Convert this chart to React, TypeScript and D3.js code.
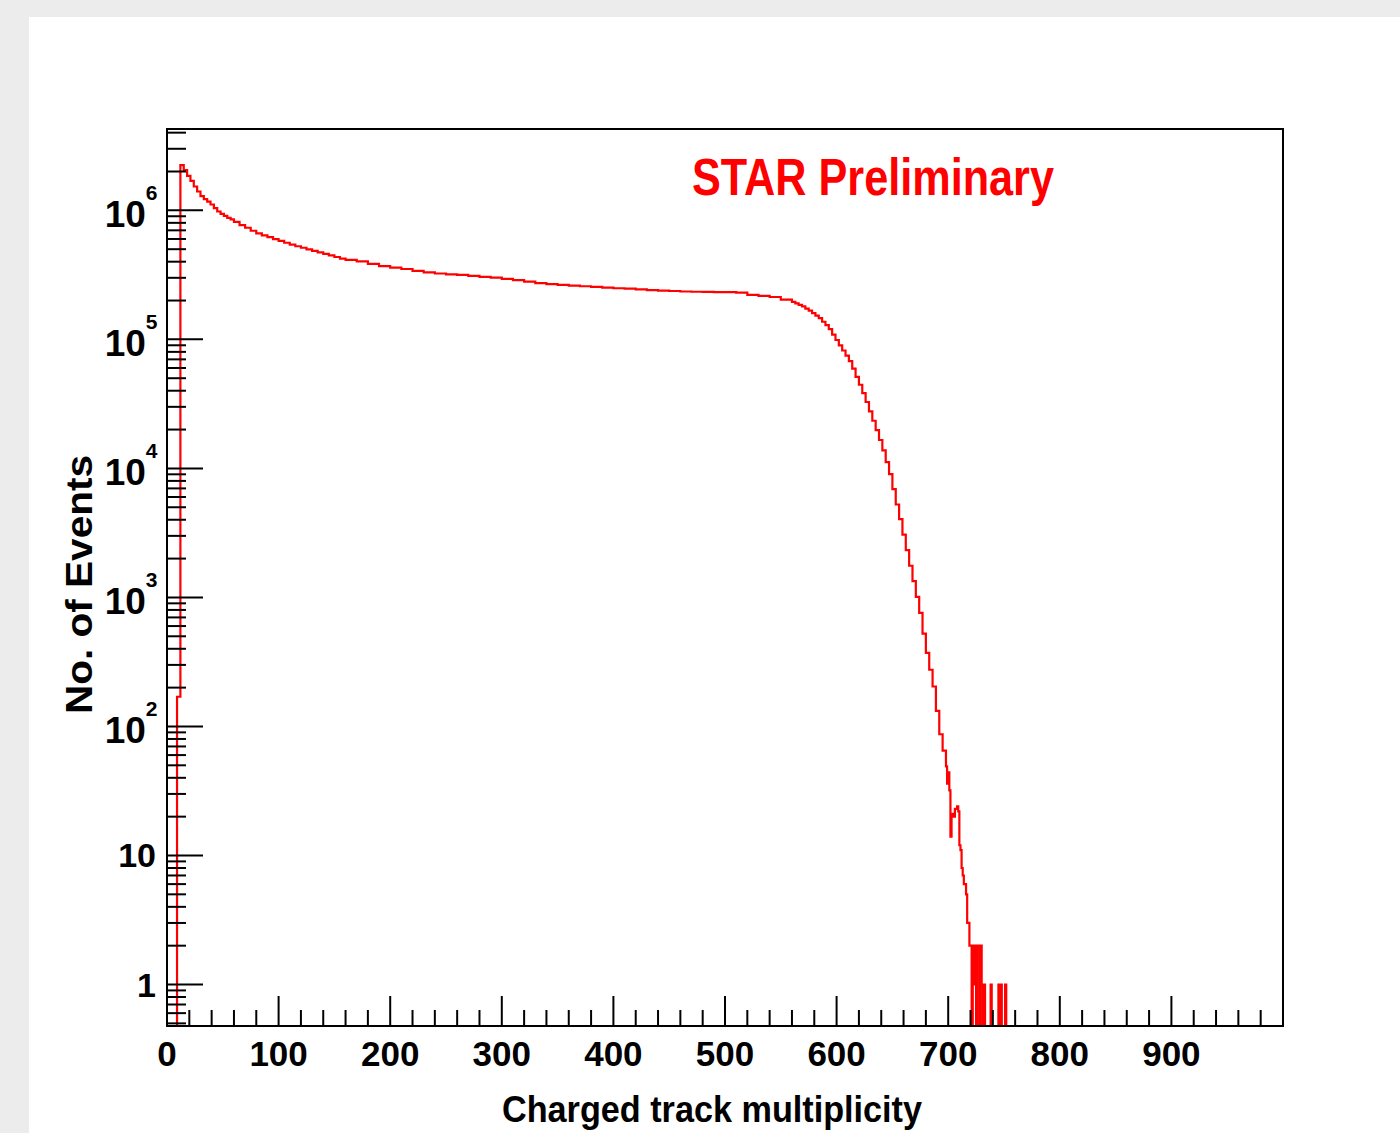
import React, { useEffect } from 'react';
import * as d3 from 'd3';

// Charged track multiplicity histogram, counts.
// Each section: first bin low edge, bin width (in multiplicity units), counts.
const riseStart = 9;
const riseWidth = 3;
const riseCounts = [170];

const peakStart = 12;
const peakWidth = 3;
const peakCounts = [
  2240000, 2050000, 1850000, 1690000, 1530000, 1400000, 1290000, 1220000,
  1170000, 1110000, 1040000, 980000, 940000, 905000, 875000, 850000,
];

const decayStart = 60;
const decayWidth = 5;
const decayCounts = [
  813000, 769000, 733000, 695000, 664000, 640000, 619000, 598000, 579000, 561000,
  543000, 527000, 513000, 499000, 485000, 472000, 460000, 448000, 435000, 423000,
];

const plateauStart = 160;
const plateauWidth = 10;
const plateauCounts = [
  413000, 402000, 385000, 369000, 360000, 351000, 339000, 331000, 324000, 319000,
  316000, 311000, 305000, 301000, 294000, 288000, 280000, 273000, 268000, 264000,
  261000, 258000, 255000, 252000, 249000, 247000, 244000, 241000, 239000, 237000,
  235000, 234000, 233000, 232000, 232000, 230000, 221000, 217000, 213000, 203000,
];

const falloffStart = 560;
const falloffWidth = 3;
const falloffCounts = [
  195000, 190000, 185000, 180000, 173000, 167000, 160000, 153000, 146000, 137000,
  129000, 120000, 109000, 98900, 89700, 82000, 74800, 67900, 59300, 51300,
  44500, 38300, 32700, 27700, 23400, 19800, 16600, 13800, 11200, 9020,
  6920, 5250, 4050, 3070, 2330, 1760, 1340, 1010, 759, 525,
  372, 275, 204, 132, 87, 65,
];

const tailStart = 698;
const tailWidth = 1;
const tailCounts = [
  49, 36, 44, 32, 14, 20, 21, 20, 23, 23, 24, 22, 12, 11, 8, 7, 6, 6, 5, 3,
  3, 2, 2, 0, 2, 1, 2, 0, 2, 2, 0, 2, 1, 0, 1, 0, 0, 0, 0, 0,
  1, 0, 0, 0, 0, 0, 0, 1, 0, 1, 0, 0, 0, 1, 0,
];

// axes
const xMajorTicks = [0, 100, 200, 300, 400, 500, 600, 700, 800, 900];
const xMinorStep = 20;
const yDecades = [1, 10, 100, 1000, 10000, 100000, 1000000];
const yLabelBase = ['1', '10', '10', '10', '10', '10', '10'];
const yLabelExp = ['', '', '2', '3', '4', '5', '6'];
const yMinorMult = [2, 3, 4, 5, 6, 7, 8, 9];

const xTitle = 'Charged track multiplicity';
const yTitle = 'No. of Events';
const watermark = 'STAR Preliminary';

const FONT = '"Liberation Sans", Arial, Helvetica, sans-serif';

export default function App() {
  useEffect(() => {
    document.body.style.margin = '0';
    document.body.style.overflow = 'hidden';
  }, []);

  const W = 1400;
  const H = 1133;
  const frame = { left: 167, right: 1283, top: 129, bottom: 1026 };

  const x = d3.scaleLinear().domain([0, 1000]).range([frame.left, frame.right]);
  const y = d3.scaleLog().domain([0.477, 4.27e6]).range([frame.bottom, frame.top]);

  const sections = [
    { start: riseStart, width: riseWidth, counts: riseCounts },
    { start: peakStart, width: peakWidth, counts: peakCounts },
    { start: decayStart, width: decayWidth, counts: decayCounts },
    { start: plateauStart, width: plateauWidth, counts: plateauCounts },
    { start: falloffStart, width: falloffWidth, counts: falloffCounts },
    { start: tailStart, width: tailWidth, counts: tailCounts },
  ];

  const pts: [number, number][] = [[0, 0]];
  let lastHi = 0;
  sections.forEach((s) => {
    s.counts.forEach((c, i) => {
      pts.push([s.start + i * s.width, c]);
      lastHi = s.start + (i + 1) * s.width;
    });
  });
  pts.push([lastHi, 0]);
  pts.push([1000, 0]);

  const line = d3
    .line<[number, number]>()
    .x((d) => x(d[0]))
    .y((d) => (d[1] > 0 ? y(d[1]) : frame.bottom))
    .curve(d3.curveStepAfter);

  const xMinor = d3.range(0, 1001, xMinorStep).filter((v) => v % 100 !== 0);
  const yMinor: number[] = [];
  [0.1, 1, 10, 100, 1000, 10000, 100000, 1000000].forEach((d) => {
    yMinorMult.forEach((m) => {
      const v = d * m;
      if (v >= 0.477 && v <= 4.27e6) yMinor.push(v);
    });
  });

  return (
    <svg width={W} height={H} style={{ display: 'block' }}>
      <rect x={0} y={0} width={W} height={H} fill="#ececec" />
      <rect x={29} y={17} width={W - 29} height={H - 17} fill="#ffffff" />
      <defs>
        <clipPath id="frameClip">
          <rect x={frame.left} y={frame.top - 2} width={frame.right - frame.left} height={frame.bottom - frame.top + 3} />
        </clipPath>
      </defs>

      <path d={line(pts) || ''} fill="none" stroke="#ff0000" strokeWidth={2.2} clipPath="url(#frameClip)" />

      {/* frame */}
      <rect
        x={frame.left}
        y={frame.top}
        width={frame.right - frame.left}
        height={frame.bottom - frame.top}
        fill="none"
        stroke="#000"
        strokeWidth={2}
      />

      {/* x ticks */}
      <g stroke="#000" strokeWidth={2}>
        {xMajorTicks.map((t) => (
          <line key={'xM' + t} x1={x(t)} x2={x(t)} y1={frame.bottom} y2={frame.bottom - 30} />
        ))}
        {xMinor.map((t) => (
          <line key={'xm' + t} x1={x(t)} x2={x(t)} y1={frame.bottom} y2={frame.bottom - 16} />
        ))}
        {yDecades.map((t) => (
          <line key={'yM' + t} x1={frame.left} x2={frame.left + 36} y1={y(t)} y2={y(t)} />
        ))}
        {yMinor.map((t) => (
          <line key={'ym' + t} x1={frame.left} x2={frame.left + 19} y1={y(t)} y2={y(t)} />
        ))}
      </g>

      {/* x labels */}
      <g fontFamily={FONT} fontWeight="bold" fontSize={35} textAnchor="middle" fill="#000">
        {xMajorTicks.map((t) => (
          <text key={'xl' + t} x={x(t)} y={1066}>
            {t}
          </text>
        ))}
      </g>

      {/* y labels */}
      <g fontFamily={FONT} fontWeight="bold" fill="#000" textAnchor="end">
        {yDecades.map((t, i) =>
          yLabelExp[i] === '' ? (
            <text key={'yl' + t} x={156} y={y(t) + 12} fontSize={34}>
              {yLabelBase[i]}
            </text>
          ) : (
            <text key={'yl' + t} x={157.5} y={y(t) + 17} fontSize={37}>
              {yLabelBase[i]}
              <tspan fontSize={21} dy={-27}>
                {yLabelExp[i]}
              </tspan>
            </text>
          )
        )}
      </g>

      {/* titles */}
      <text
        x={502}
        y={1122}
        fontFamily={FONT}
        fontWeight="bold"
        fontSize={36}
        textLength={420}
        lengthAdjust="spacingAndGlyphs"
        fill="#000"
      >
        {xTitle}
      </text>
      <text
        transform="translate(92,714) rotate(-90)"
        x={0}
        y={0}
        fontFamily={FONT}
        fontWeight="bold"
        fontSize={36}
        textLength={259}
        lengthAdjust="spacingAndGlyphs"
        fill="#000"
      >
        {yTitle}
      </text>
      <text
        x={692}
        y={195}
        fontFamily={FONT}
        fontWeight="bold"
        fontSize={52}
        textLength={362}
        lengthAdjust="spacingAndGlyphs"
        fill="#ff0000"
      >
        {watermark}
      </text>
    </svg>
  );
}
